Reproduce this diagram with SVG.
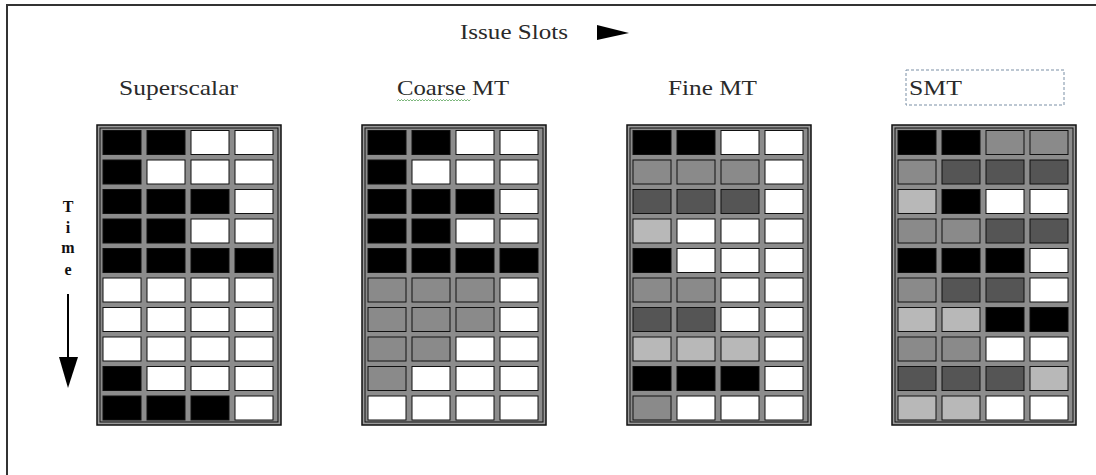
<svg xmlns="http://www.w3.org/2000/svg" width="1096" height="475" viewBox="0 0 1096 475">
  <style>
    .t { font-family: "Liberation Serif", "DejaVu Serif", serif; font-size: 22px; fill: #2a2a2a; }
    .time { font-family: "Liberation Serif", "DejaVu Serif", serif; font-size: 16px; font-weight: bold; fill: #111; text-anchor: middle; }
    .outer { fill: #9a9a9a; stroke: #111; stroke-width: 1.5; }
    .inner { fill: #8c8c8c; stroke: #111; stroke-width: 1; }
    rect.c { stroke: #111; stroke-width: 1; }
    .b { fill: #000; }
    .w { fill: #fff; }
    .m { fill: #8a8a8a; }
    .d { fill: #555; }
    .l { fill: #b8b8b8; }
  </style>
  <rect x="0" y="0" width="1096" height="475" fill="#fff"/>
  <!-- frame -->
  <path d="M7,475 L7,5 L1096,5" fill="none" stroke="#333" stroke-width="2"/>

  <!-- titles -->
  <g id="titles">
    <text class="t" x="460" y="39" textLength="108" lengthAdjust="spacingAndGlyphs">Issue Slots</text>
    <text class="t" x="119" y="95" textLength="119" lengthAdjust="spacingAndGlyphs">Superscalar</text>
    <text class="t" x="397" y="95" textLength="112" lengthAdjust="spacingAndGlyphs">Coarse MT</text>
    <path d="M397,101 l1.5,-1.5 l1.5,1.5 l1.5,-1.5 l1.5,1.5 l1.5,-1.5 l1.5,1.5 l1.5,-1.5 l1.5,1.5 l1.5,-1.5 l1.5,1.5 l1.5,-1.5 l1.5,1.5 l1.5,-1.5 l1.5,1.5 l1.5,-1.5 l1.5,1.5 l1.5,-1.5 l1.5,1.5 l1.5,-1.5 l1.5,1.5 l1.5,-1.5 l1.5,1.5 l1.5,-1.5 l1.5,1.5 l1.5,-1.5 l1.5,1.5 l1.5,-1.5 l1.5,1.5 l1.5,-1.5 l1.5,1.5 l1.5,-1.5 l1.5,1.5 l1.5,-1.5 l1.5,1.5 l1.5,-1.5 l1.5,1.5 l1.5,-1.5 l1.5,1.5 l1.5,-1.5 l1.5,1.5 l1.5,-1.5 l1.5,1.5 l1.5,-1.5 l1.5,1.5 l1.5,-1.5 l1.5,1.5 l1.5,-1.5 l1.5,1.5 l1.5,-1.5" fill="none" stroke="#5aa55a" stroke-width="0.8"/>
    <text class="t" x="668" y="95" textLength="89" lengthAdjust="spacingAndGlyphs">Fine MT</text>
    <rect x="906" y="70" width="158" height="35" fill="none" stroke="#7a8fa5" stroke-width="1" stroke-dasharray="3,2"/>
    <text class="t" x="909" y="95" textLength="53" lengthAdjust="spacingAndGlyphs">SMT</text>
  </g>

  <!-- axes / connectors -->
  <g id="connectors">
    <polygon points="597,25 629,33 597,40" fill="#000"/>
    <text class="time" x="68" y="212">T</text>
    <text class="time" x="68" y="233">i</text>
    <text class="time" x="68" y="253">m</text>
    <text class="time" x="68" y="275">e</text>
    <line x1="68" y1="294" x2="68" y2="362" stroke="#000" stroke-width="2"/>
    <polygon points="59,357 78,357 68,388" fill="#000"/>
  </g>

  <!-- Superscalar grid -->
  <g id="superscalar" transform="translate(97,125)">
    <rect class="outer" x="0" y="0" width="184" height="300"/>
    <rect class="inner" x="3" y="3" width="178" height="294"/>
    <rect class="c b" x="6" y="5.5" width="38" height="24"/><rect class="c b" x="50" y="5.5" width="38" height="24"/><rect class="c w" x="94" y="5.5" width="38" height="24"/><rect class="c w" x="138" y="5.5" width="38" height="24"/>
    <rect class="c b" x="6" y="35" width="38" height="24"/><rect class="c w" x="50" y="35" width="38" height="24"/><rect class="c w" x="94" y="35" width="38" height="24"/><rect class="c w" x="138" y="35" width="38" height="24"/>
    <rect class="c b" x="6" y="64.5" width="38" height="24"/><rect class="c b" x="50" y="64.5" width="38" height="24"/><rect class="c b" x="94" y="64.5" width="38" height="24"/><rect class="c w" x="138" y="64.5" width="38" height="24"/>
    <rect class="c b" x="6" y="94" width="38" height="24"/><rect class="c b" x="50" y="94" width="38" height="24"/><rect class="c w" x="94" y="94" width="38" height="24"/><rect class="c w" x="138" y="94" width="38" height="24"/>
    <rect class="c b" x="6" y="123.5" width="38" height="24"/><rect class="c b" x="50" y="123.5" width="38" height="24"/><rect class="c b" x="94" y="123.5" width="38" height="24"/><rect class="c b" x="138" y="123.5" width="38" height="24"/>
    <rect class="c w" x="6" y="153" width="38" height="24"/><rect class="c w" x="50" y="153" width="38" height="24"/><rect class="c w" x="94" y="153" width="38" height="24"/><rect class="c w" x="138" y="153" width="38" height="24"/>
    <rect class="c w" x="6" y="182.5" width="38" height="24"/><rect class="c w" x="50" y="182.5" width="38" height="24"/><rect class="c w" x="94" y="182.5" width="38" height="24"/><rect class="c w" x="138" y="182.5" width="38" height="24"/>
    <rect class="c w" x="6" y="212" width="38" height="24"/><rect class="c w" x="50" y="212" width="38" height="24"/><rect class="c w" x="94" y="212" width="38" height="24"/><rect class="c w" x="138" y="212" width="38" height="24"/>
    <rect class="c b" x="6" y="241.5" width="38" height="24"/><rect class="c w" x="50" y="241.5" width="38" height="24"/><rect class="c w" x="94" y="241.5" width="38" height="24"/><rect class="c w" x="138" y="241.5" width="38" height="24"/>
    <rect class="c b" x="6" y="271" width="38" height="24"/><rect class="c b" x="50" y="271" width="38" height="24"/><rect class="c b" x="94" y="271" width="38" height="24"/><rect class="c w" x="138" y="271" width="38" height="24"/>
  </g>

  <!-- Coarse MT grid -->
  <g id="coarse-mt" transform="translate(362,125)">
    <rect class="outer" x="0" y="0" width="184" height="300"/>
    <rect class="inner" x="3" y="3" width="178" height="294"/>
    <rect class="c b" x="6" y="5.5" width="38" height="24"/><rect class="c b" x="50" y="5.5" width="38" height="24"/><rect class="c w" x="94" y="5.5" width="38" height="24"/><rect class="c w" x="138" y="5.5" width="38" height="24"/>
    <rect class="c b" x="6" y="35" width="38" height="24"/><rect class="c w" x="50" y="35" width="38" height="24"/><rect class="c w" x="94" y="35" width="38" height="24"/><rect class="c w" x="138" y="35" width="38" height="24"/>
    <rect class="c b" x="6" y="64.5" width="38" height="24"/><rect class="c b" x="50" y="64.5" width="38" height="24"/><rect class="c b" x="94" y="64.5" width="38" height="24"/><rect class="c w" x="138" y="64.5" width="38" height="24"/>
    <rect class="c b" x="6" y="94" width="38" height="24"/><rect class="c b" x="50" y="94" width="38" height="24"/><rect class="c w" x="94" y="94" width="38" height="24"/><rect class="c w" x="138" y="94" width="38" height="24"/>
    <rect class="c b" x="6" y="123.5" width="38" height="24"/><rect class="c b" x="50" y="123.5" width="38" height="24"/><rect class="c b" x="94" y="123.5" width="38" height="24"/><rect class="c b" x="138" y="123.5" width="38" height="24"/>
    <rect class="c m" x="6" y="153" width="38" height="24"/><rect class="c m" x="50" y="153" width="38" height="24"/><rect class="c m" x="94" y="153" width="38" height="24"/><rect class="c w" x="138" y="153" width="38" height="24"/>
    <rect class="c m" x="6" y="182.5" width="38" height="24"/><rect class="c m" x="50" y="182.5" width="38" height="24"/><rect class="c m" x="94" y="182.5" width="38" height="24"/><rect class="c w" x="138" y="182.5" width="38" height="24"/>
    <rect class="c m" x="6" y="212" width="38" height="24"/><rect class="c m" x="50" y="212" width="38" height="24"/><rect class="c w" x="94" y="212" width="38" height="24"/><rect class="c w" x="138" y="212" width="38" height="24"/>
    <rect class="c m" x="6" y="241.5" width="38" height="24"/><rect class="c w" x="50" y="241.5" width="38" height="24"/><rect class="c w" x="94" y="241.5" width="38" height="24"/><rect class="c w" x="138" y="241.5" width="38" height="24"/>
    <rect class="c w" x="6" y="271" width="38" height="24"/><rect class="c w" x="50" y="271" width="38" height="24"/><rect class="c w" x="94" y="271" width="38" height="24"/><rect class="c w" x="138" y="271" width="38" height="24"/>
  </g>

  <!-- Fine MT grid -->
  <g id="fine-mt" transform="translate(627,125)">
    <rect class="outer" x="0" y="0" width="184" height="300"/>
    <rect class="inner" x="3" y="3" width="178" height="294"/>
    <rect class="c b" x="6" y="5.5" width="38" height="24"/><rect class="c b" x="50" y="5.5" width="38" height="24"/><rect class="c w" x="94" y="5.5" width="38" height="24"/><rect class="c w" x="138" y="5.5" width="38" height="24"/>
    <rect class="c m" x="6" y="35" width="38" height="24"/><rect class="c m" x="50" y="35" width="38" height="24"/><rect class="c m" x="94" y="35" width="38" height="24"/><rect class="c w" x="138" y="35" width="38" height="24"/>
    <rect class="c d" x="6" y="64.5" width="38" height="24"/><rect class="c d" x="50" y="64.5" width="38" height="24"/><rect class="c d" x="94" y="64.5" width="38" height="24"/><rect class="c w" x="138" y="64.5" width="38" height="24"/>
    <rect class="c l" x="6" y="94" width="38" height="24"/><rect class="c w" x="50" y="94" width="38" height="24"/><rect class="c w" x="94" y="94" width="38" height="24"/><rect class="c w" x="138" y="94" width="38" height="24"/>
    <rect class="c b" x="6" y="123.5" width="38" height="24"/><rect class="c w" x="50" y="123.5" width="38" height="24"/><rect class="c w" x="94" y="123.5" width="38" height="24"/><rect class="c w" x="138" y="123.5" width="38" height="24"/>
    <rect class="c m" x="6" y="153" width="38" height="24"/><rect class="c m" x="50" y="153" width="38" height="24"/><rect class="c w" x="94" y="153" width="38" height="24"/><rect class="c w" x="138" y="153" width="38" height="24"/>
    <rect class="c d" x="6" y="182.5" width="38" height="24"/><rect class="c d" x="50" y="182.5" width="38" height="24"/><rect class="c w" x="94" y="182.5" width="38" height="24"/><rect class="c w" x="138" y="182.5" width="38" height="24"/>
    <rect class="c l" x="6" y="212" width="38" height="24"/><rect class="c l" x="50" y="212" width="38" height="24"/><rect class="c l" x="94" y="212" width="38" height="24"/><rect class="c w" x="138" y="212" width="38" height="24"/>
    <rect class="c b" x="6" y="241.5" width="38" height="24"/><rect class="c b" x="50" y="241.5" width="38" height="24"/><rect class="c b" x="94" y="241.5" width="38" height="24"/><rect class="c w" x="138" y="241.5" width="38" height="24"/>
    <rect class="c m" x="6" y="271" width="38" height="24"/><rect class="c w" x="50" y="271" width="38" height="24"/><rect class="c w" x="94" y="271" width="38" height="24"/><rect class="c w" x="138" y="271" width="38" height="24"/>
  </g>

  <!-- SMT grid -->
  <g id="smt" transform="translate(892,125)">
    <rect class="outer" x="0" y="0" width="184" height="300"/>
    <rect class="inner" x="3" y="3" width="178" height="294"/>
    <rect class="c b" x="6" y="5.5" width="38" height="24"/><rect class="c b" x="50" y="5.5" width="38" height="24"/><rect class="c m" x="94" y="5.5" width="38" height="24"/><rect class="c m" x="138" y="5.5" width="38" height="24"/>
    <rect class="c m" x="6" y="35" width="38" height="24"/><rect class="c d" x="50" y="35" width="38" height="24"/><rect class="c d" x="94" y="35" width="38" height="24"/><rect class="c d" x="138" y="35" width="38" height="24"/>
    <rect class="c l" x="6" y="64.5" width="38" height="24"/><rect class="c b" x="50" y="64.5" width="38" height="24"/><rect class="c w" x="94" y="64.5" width="38" height="24"/><rect class="c w" x="138" y="64.5" width="38" height="24"/>
    <rect class="c m" x="6" y="94" width="38" height="24"/><rect class="c m" x="50" y="94" width="38" height="24"/><rect class="c d" x="94" y="94" width="38" height="24"/><rect class="c d" x="138" y="94" width="38" height="24"/>
    <rect class="c b" x="6" y="123.5" width="38" height="24"/><rect class="c b" x="50" y="123.5" width="38" height="24"/><rect class="c b" x="94" y="123.5" width="38" height="24"/><rect class="c w" x="138" y="123.5" width="38" height="24"/>
    <rect class="c m" x="6" y="153" width="38" height="24"/><rect class="c d" x="50" y="153" width="38" height="24"/><rect class="c d" x="94" y="153" width="38" height="24"/><rect class="c w" x="138" y="153" width="38" height="24"/>
    <rect class="c l" x="6" y="182.5" width="38" height="24"/><rect class="c l" x="50" y="182.5" width="38" height="24"/><rect class="c b" x="94" y="182.5" width="38" height="24"/><rect class="c b" x="138" y="182.5" width="38" height="24"/>
    <rect class="c m" x="6" y="212" width="38" height="24"/><rect class="c m" x="50" y="212" width="38" height="24"/><rect class="c w" x="94" y="212" width="38" height="24"/><rect class="c w" x="138" y="212" width="38" height="24"/>
    <rect class="c d" x="6" y="241.5" width="38" height="24"/><rect class="c d" x="50" y="241.5" width="38" height="24"/><rect class="c d" x="94" y="241.5" width="38" height="24"/><rect class="c l" x="138" y="241.5" width="38" height="24"/>
    <rect class="c l" x="6" y="271" width="38" height="24"/><rect class="c l" x="50" y="271" width="38" height="24"/><rect class="c w" x="94" y="271" width="38" height="24"/><rect class="c w" x="138" y="271" width="38" height="24"/>
  </g>
</svg>
